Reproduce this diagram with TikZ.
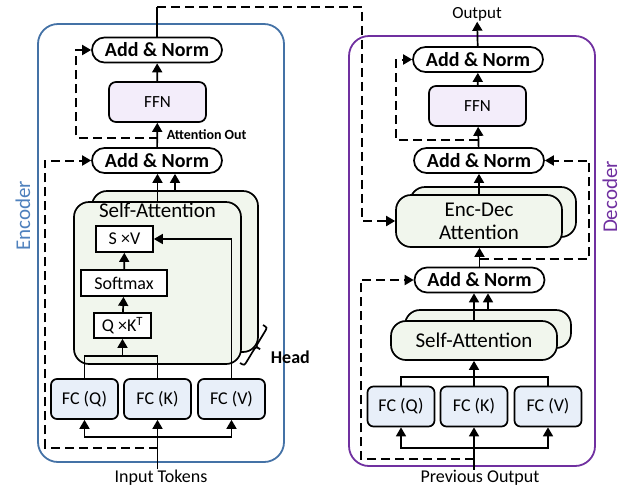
\documentclass[tikz,border=0pt]{standalone}
\usepackage{fontspec}
\setmainfont{Carlito}
\usetikzlibrary{arrows.meta}

\definecolor{encline}{RGB}{68,114,166}
\definecolor{enctext}{RGB}{79,129,189}
\definecolor{decline}{RGB}{112,48,160}
\definecolor{fcfill}{RGB}{232,239,249}
\definecolor{ffnfill}{RGB}{243,237,250}
\definecolor{attfill}{RGB}{241,246,237}

\tikzset{
  arr/.style={-{Triangle[width=10pt,length=9pt]}},
  res/.style={dash pattern=on 9pt off 5pt, line width=2pt},
  addnorm/.style={draw, fill=white, line width=1.7pt, rounded corners=12.5pt,
    minimum width=130pt, minimum height=25pt, inner sep=0pt,
    font=\fontsize{20}{22}\selectfont\bfseries},
  ffnbox/.style={draw, fill=ffnfill, line width=1.7pt, rounded corners=7pt,
    minimum width=97pt, minimum height=40pt, inner sep=0pt,
    font=\fontsize{17}{19}\selectfont},
  fcbox/.style={draw, fill=fcfill, line width=1.7pt, rounded corners=6pt,
    minimum width=67pt, minimum height=40pt, inner sep=0pt,
    font=\fontsize{18}{20}\selectfont},
  attbox/.style={draw, fill=attfill, line width=1.7pt, rounded corners=15pt,
    inner sep=0pt, font=\fontsize{21}{24}\selectfont},
  opbox/.style={draw, fill=white, line width=1.7pt, minimum height=26pt,
    inner sep=0pt, font=\fontsize{18}{20}\selectfont},
  plain/.style={inner sep=0pt, font=\fontsize{18}{20}\selectfont}
}

\begin{document}
\begin{tikzpicture}[x=1pt,y=-1pt,line width=1.7pt]
\useasboundingbox (0,0) rectangle (629,491);

%%%%%OUTER BOXES%%%%%%%
\draw[encline, line width=1.8pt, rounded corners=20pt] (38,24) rectangle (284,462);
\node[plain, rotate=90, text=enctext, font=\fontsize{21}{24}\selectfont] (encLabel) at (23,216) {Encoder};
\draw[decline, line width=1.8pt, rounded corners=20pt] (349,36) rectangle (595,466);
\node[plain, rotate=90, text=decline, font=\fontsize{21}{24}\selectfont] (decLabel) at (610,197) {Decoder};

%%%%%ENCODER%%%%%%%%%%%
\node[attbox, minimum width=166pt, minimum height=161pt] (saEback) at (175,271.5) {};
\node[attbox, minimum width=167pt, minimum height=162pt,
  label={[plain, anchor=north, yshift=-1pt, font=\fontsize{21}{24}\selectfont]north:Self-Attention}] (saE) at (157.5,283) {};
\node[opbox, minimum width=57pt] (sv) at (124.5,239) {S ×V};
\node[opbox, minimum width=86pt] (soft) at (124,283) {Softmax};
\node[opbox, minimum width=57pt, minimum height=25pt] (qk) at (122.5,325.5) {Q ×K\textsuperscript{T}};

\node[fcbox] (fcQ) at (84.5,399) {FC (Q)};
\node[fcbox] (fcK) at (157.5,399) {FC (K)};
\node[fcbox] (fcV) at (231.5,399) {FC (V)};

\node[addnorm] (an1E) at (157,160.5) {Add \& Norm};
\node[ffnbox] (ffnE) at (157.5,102) {FFN};
\node[addnorm] (an2E) at (157,50) {Add \& Norm};

\node[plain] (inE) at (161,478) {Input Tokens};
\node[plain, anchor=west, font=\fontsize{14}{16}\selectfont\bfseries] (attOut) at (166,135) {Attention Out};
\node[plain, anchor=west, font=\fontsize{18}{20}\selectfont\bfseries] (head) at (270,357) {Head};
% brace for the heads
\draw (263,325) .. controls (267.3,327.6) .. (264.7,331.9) -- (258.5,342.1)
  .. controls (255.8,346.6) .. (260.1,349.2) .. controls (255.8,346.6) .. (253.1,351.0)
  -- (246.9,361.3) .. controls (244.3,365.5) .. (240,363);

\coordinate (qkE) at (122.5,356);
\coordinate (busE) at (157.5,437);
\coordinate (resE1) at (157.5,448);
\coordinate (resE2) at (157.5,138);
\coordinate (encTop) at (157,7);

\draw[arr] (inE.north -| fcK.south) -- (fcK.south);
\draw[arr] (busE) -| (fcQ.south);
\draw[arr] (busE) -| (fcV.south);
\draw (fcQ.north) |- (qkE) -| (fcK.north);
\draw[arr] (qkE) -- (qk.south);
\draw[arr] (qk) -- (soft);
\draw[arr] (soft) -- (sv);
\draw[arr] (fcV.north) |- (sv.east);
\draw[arr] (saE.north) -- (saE.north |- an1E.south);
\draw[arr] (saEback.north) -- (saEback.north |- an1E.south);
\draw[arr] (an1E) -- (ffnE);
\draw[arr] (ffnE) -- (an2E);
\draw[res, arr] (resE1) -| ([xshift=-46pt]an1E.west) -- (an1E.west);
\draw[res, arr] (resE2) -| ([xshift=-15pt]an2E.west) -- (an2E.west);

%%%%%DECODER%%%%%%%%%%%
\node[attbox, minimum width=166pt, minimum height=38pt] (saDback) at (488,329) {};
\node[attbox, minimum width=166pt, minimum height=39pt] (saD) at (474,340.5) {Self-Attention};
\node[attbox, minimum width=166pt, minimum height=50pt] (edback) at (493,212) {};
\node[attbox, minimum width=166pt, minimum height=52pt, align=center] (ed) at (479,221) {Enc-Dec\\[-1pt]Attention};

\node[fcbox] (fcQD) at (401,406.5) {FC (Q)};
\node[fcbox] (fcKD) at (474,406.5) {FC (K)};
\node[fcbox] (fcVD) at (548,406.5) {FC (V)};

\node[addnorm] (an1D) at (479.5,280) {Add \& Norm};
\node[addnorm] (an2D) at (479,160.5) {Add \& Norm};
\node[ffnbox] (ffnD) at (477.5,106) {FFN};
\node[addnorm] (an3D) at (478,59.5) {Add \& Norm};

\node[plain] (prevOut) at (480,478) {Previous Output};
\node[plain, font=\fontsize{17}{19}\selectfont] (outD) at (477,14) {Output};

\coordinate (qkD) at (474,377);
\coordinate (busD) at (474,448);
\coordinate (resD1) at (474,459);
\coordinate (resD2) at (479.5,259);
\coordinate (resD3) at (478,140);

\draw[arr] (prevOut.north -| fcKD.south) -- (fcKD.south);
\draw[arr] (busD) -| (fcQD.south);
\draw[arr] (busD) -| (fcVD.south);
\draw (fcQD.north) |- (qkD) -| (fcVD.north);
\draw (fcKD.north) -- (qkD);
\draw[arr] (qkD) -- (saD.south);
\draw[arr] (saD.north) -- (saD.north |- an1D.south);
\draw[arr] (saDback.north) -- (saDback.north |- an1D.south);
\draw[arr] (an1D) -- (an1D.north |- ed.south);
\draw[arr] (ed.north -| an2D.south) -- (an2D.south);
\draw[arr] (an2D) -- (ffnD);
\draw[arr] (ffnD) -- (an3D);
\draw[arr] (an3D) -- (outD);
\draw[res, arr] (resD1) -| ([xshift=-53pt]an1D.west) -- (an1D.west);
\draw[res, arr] (resD2) -| ([xshift=44pt]an2D.east) -- (an2D.east);
\draw[res, arr] (resD3) -| ([xshift=-16pt]an3D.west) -- (an3D.west);

%%%%%ENCODER TO DECODER%%%%%
\draw (an2E.north) -- (encTop);
\draw[res, arr] (encTop) -| ([xshift=-33pt]ed.west) -- (ed.west);

\end{tikzpicture}
\end{document}
